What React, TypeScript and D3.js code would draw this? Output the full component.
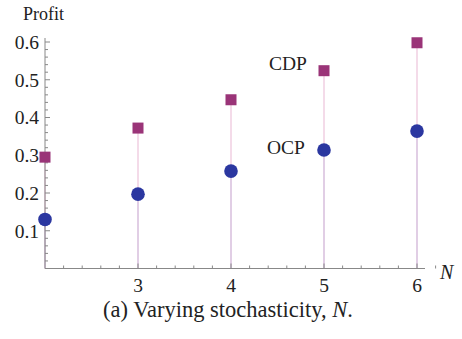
import React from "react";
import * as d3 from "d3";

const nValues = [2, 3, 4, 5, 6];
const cdpValues = [0.295, 0.372, 0.447, 0.524, 0.598];
const ocpValues = [0.13, 0.197, 0.258, 0.314, 0.364];
const yTicks = [0.1, 0.2, 0.3, 0.4, 0.5, 0.6];
const xTicks = [3, 4, 5, 6];

export default function App() {
  const W = 462, H = 339;
  const x = d3.scaleLinear().domain([2, 6]).range([45, 417]);
  const y = d3.scaleLinear().domain([0, 0.6]).range([268.5, 42]);
  const yMinor = d3.range(0, 0.6001, 0.02).filter(v => Math.abs(Math.round(v * 10) - v * 10) > 1e-6);
  const xMinor = d3.range(2, 6.3, 0.2).filter(v => Math.abs(Math.round(v) - v) > 1e-6);
  const font = "'Liberation Serif', 'Times New Roman', serif";
  const axisColor = "#888";
  return (
    <svg width={W} height={H} style={{ position: "absolute", left: 0, top: 0, background: "#fff" }}>
      {/* stems */}
      {nValues.map((n, i) => (
        <line key={"sc" + n} x1={x(n)} x2={x(n)} y1={y(0)} y2={y(cdpValues[i])} stroke="#f2d2e4" strokeWidth={1.6} />
      ))}
      {nValues.map((n, i) => (
        <line key={"so" + n} x1={x(n)} x2={x(n)} y1={y(0)} y2={y(ocpValues[i])} stroke="#dccbe4" strokeWidth={1.6} />
      ))}
      {/* axes */}
      <line x1={x(2)} x2={425} y1={y(0)} y2={y(0)} stroke={axisColor} strokeWidth={1} />
      <line x1={x(2)} x2={x(2)} y1={y(0)} y2={38} stroke={axisColor} strokeWidth={1} />
      {yTicks.map(t => (
        <g key={"yt" + t}>
          <line x1={x(2)} x2={x(2) + 5} y1={y(t)} y2={y(t)} stroke={axisColor} />
          <text x={x(2) - 6} y={y(t)} dy="0.35em" textAnchor="end" fontFamily={font} fontSize={19.5} fill="#222">{t.toFixed(1)}</text>
        </g>
      ))}
      {yMinor.map(t => (
        <line key={"ym" + t} x1={x(2)} x2={x(2) + 3} y1={y(t)} y2={y(t)} stroke={axisColor} />
      ))}
      {xTicks.map(t => (
        <g key={"xt" + t}>
          <line x1={x(t)} x2={x(t)} y1={y(0)} y2={y(0) - 5} stroke={axisColor} />
          <text x={x(t)} y={291.5} textAnchor="middle" fontFamily={font} fontSize={19.5} fill="#222">{t}</text>
        </g>
      ))}
      {xMinor.map(t => (
        <line key={"xm" + t} x1={x(t)} x2={x(t)} y1={y(0)} y2={y(0) - 3} stroke={axisColor} />
      ))}
      {/* markers */}
      {nValues.map((n, i) => (
        <rect key={"c" + n} x={x(n) - 5.5} y={y(cdpValues[i]) - 5.5} width={11} height={11} fill="#9a3478" />
      ))}
      {nValues.map((n, i) => (
        <circle key={"o" + n} cx={x(n)} cy={y(ocpValues[i])} r={6.8} fill="#2b37a0" />
      ))}
      {/* labels */}
      <text x={23} y={20} fontFamily={font} fontSize={18} fill="#222">Profit</text>
      <text x={440} y={279} fontFamily={font} fontSize={20} fontStyle="italic" fill="#222">N</text>
      <text x={269} y={70} fontFamily={font} fontSize={19.5} fill="#222">CDP</text>
      <text x={267} y={154} fontFamily={font} fontSize={19.5} fill="#222">OCP</text>
      <text x={228} y={317} textAnchor="middle" fontFamily={font} fontSize={22.5} fill="#222">
        (a) Varying stochasticity, <tspan fontStyle="italic">N</tspan>.
      </text>
    </svg>
  );
}
